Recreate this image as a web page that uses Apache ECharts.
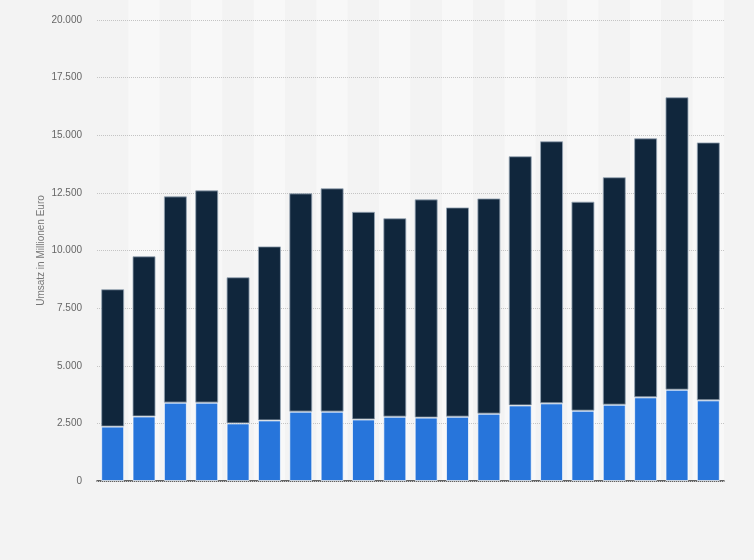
<!DOCTYPE html>
<html>
<head>
<meta charset="utf-8">
<script src="https://cdn.jsdelivr.net/npm/echarts@6/dist/echarts.min.js"></script>
<style>
  html, body { margin: 0; padding: 0; background: #f3f3f3; }
  #chart { width: 754px; height: 560px; }
</style>
</head>
<body>
<div id="chart"></div>
<script>
// 20 Jahre, keine Beschriftung der Kategorien im Original
var categories = ['1', '2', '3', '4', '5', '6', '7', '8', '9', '10',
  '11', '12', '13', '14', '15', '16', '17', '18', '19', '20']
// unterer (blauer) Anteil, Mio. Euro
var blueValues = [2360, 2800, 3400, 3400, 2500, 2630, 3010, 3010, 2670, 2790,
  2750, 2790, 2920, 3280, 3370, 3050, 3310, 3630, 3960, 3500]
// Gesamtumsatz, Mio. Euro
var totalValues = [8320, 9750, 12350, 12610, 8840, 10180, 12480, 12700, 11680, 11400,
  12220, 11870, 12260, 14090, 14740, 12120, 13180, 14870, 16650, 14690]
var navyValues = totalValues.map(function (t, i) { return t - blueValues[i] })

var chart = echarts.init(document.getElementById('chart'))

function fmt(v) {
  return String(v).replace(/\B(?=(\d{3})+(?!\d))/g, '.')
}

chart.setOption({
  backgroundColor: '#f3f3f3',
  animation: false,
  grid: {
    left: 97,
    right: 30,
    top: 0,
    bottom: 79
  },
  xAxis: {
    type: 'category',
    data: categories,
    z: 0,
    axisLine: {
      lineStyle: { color: '#333', width: 1.5 }
    },
    axisTick: { show: false },
    axisLabel: { show: false },
    splitArea: {
      show: true,
      areaStyle: { color: ['#f3f3f3', '#f8f8f8'] }
    }
  },
  yAxis: {
    type: 'value',
    z: 1,
    min: 0,
    // oberer Rand etwas über 20.000, damit die Streifen bis ganz oben reichen
    max: 20870,
    interval: 2500,
    name: 'Umsatz in Millionen Euro',
    nameLocation: 'middle',
    nameGap: 51,
    nameMoveOverlap: false,
    nameTextStyle: {
      color: '#777',
      fontSize: 10,
      fontFamily: 'Liberation Sans',
      padding: [0, 20, 0, 0]
    },
    axisLine: { show: false },
    axisTick: { show: false },
    axisLabel: {
      color: '#666',
      fontSize: 10,
      fontFamily: 'Liberation Sans',
      margin: 15,
      showMaxLabel: false,
      formatter: function (v) { return v % 2500 === 0 ? fmt(v) : '' }
    },
    splitLine: {
      showMaxLine: false,
      lineStyle: { color: '#c4c4c4', type: 'dotted' }
    }
  },
  series: [{
    name: 'unten',
    type: 'bar',
    stack: 'umsatz',
    barWidth: 23,
    itemStyle: {
      color: '#2775db',
      borderColor: 'rgba(255,255,255,0.7)',
      borderWidth: 1
    },
    data: blueValues
  }, {
    name: 'oben',
    type: 'bar',
    stack: 'umsatz',
    barWidth: 23,
    itemStyle: {
      color: '#10263c',
      borderColor: 'rgba(150,165,180,0.8)',
      borderWidth: 1
    },
    data: navyValues
  }]
})
</script>
</body>
</html>
